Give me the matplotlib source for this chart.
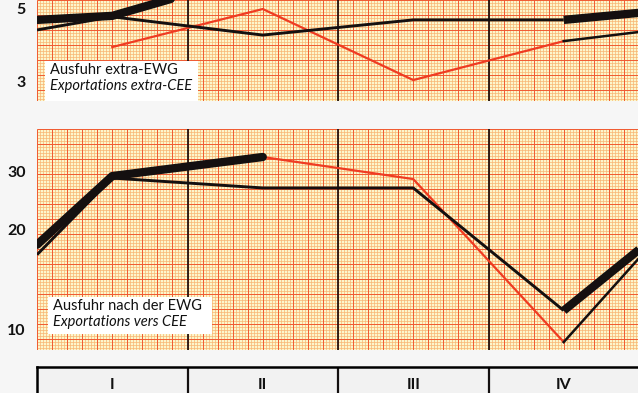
import numpy as np
import matplotlib.pyplot as plt
from matplotlib.ticker import NullLocator
from matplotlib.patches import Rectangle

# time axis in quarters: left edge (previous Q4 link), Q1..Q4 mid points, right edge (next Q1 link)
x_pos = [0.0, 0.5, 1.5, 2.5, 3.5, 4.0]
quarters = ['I', 'II', 'III', 'IV']
nan = np.nan

# top panel - Ausfuhr extra-EWG
extra_a = [4.30, 4.71, 4.15, 4.61, 4.61, 4.84]   # thin black, link to next year drawn thick
extra_b = [nan, 3.82, 4.97, 3.04, 3.98, 4.24]    # red, link to next year drawn thin black
extra_c = [4.61, 4.74, 6.40, nan, nan, nan]      # thick black
extra_ticks = [3, 5]

# bottom panel - Ausfuhr nach der EWG
intra_a = [16.8, 28.6, 26.7, 26.7, 11.4, 17.4]
intra_b = [nan, nan, 33.1, 28.4, 9.16, 16.4]
intra_c = [18.0, 29.0, 33.1, nan, nan, nan]
intra_ticks = [10, 20, 30]

W, H = 638, 393
fig = plt.figure(figsize=(W / 100, H / 100), dpi=100, facecolor='#f6f6f6')
plt.rcParams['font.family'] = ['Lato', 'DejaVu Sans']

RED = '#ef3b22'
INK = '#141010'


def frac(x0, y0, x1, y1):
    return [x0 / W, 1 - y1 / H, (x1 - x0) / W, (y1 - y0) / H]


def paper(rect):
    # graph paper background, drawn in pixel units
    bg = fig.add_axes(rect, zorder=0)
    w, h = rect[2] * W, rect[3] * H
    bg.set_xlim(0, w)
    bg.set_ylim(h, 0)
    bg.set_facecolor('#fcf6cc')
    bg.vlines(np.arange(0, w, 3.01), 0, h, color='#f8b472', lw=0.5)
    bg.hlines(np.arange(0, h, 3.0), 0, w, color='#f8b472', lw=0.5)
    bg.vlines(np.arange(0, w, 15.05), 0, h, color='#f05a32', lw=0.7)
    bg.hlines(np.arange(0, h, 15.0), 0, w, color='#f05a32', lw=0.7)
    bg.set_xticks([])
    bg.set_yticks([])
    for s in bg.spines.values():
        s.set_visible(False)


def panel(rect, ylim, ticks, a, b, c):
    paper(rect)
    ax = fig.add_axes(rect, zorder=1)
    ax.patch.set_alpha(0)
    ax.set_yscale('log')
    ax.set_xlim(0, 4)
    ax.set_ylim(*ylim)
    for q in [1, 2, 3]:
        ax.axvline(q, color='#221510', lw=1.3, zorder=1)
    # thin black year with its thick link
    ax.plot(x_pos[:5], a[:5], color=INK, lw=2.1, solid_capstyle='butt', zorder=3)
    ax.plot(x_pos[4:], a[4:], color=INK, lw=6, solid_capstyle='butt', zorder=4)
    # red year with its thin link
    ax.plot(x_pos[:5], b[:5], color=RED, lw=1.6, zorder=2)
    ax.plot(x_pos[4:], b[4:], color=INK, lw=1.8, zorder=3)
    # thick black year
    ax.plot(x_pos, c, color=INK, lw=6, solid_capstyle='round', zorder=4)
    ax.set_yticks(ticks)
    ax.set_yticklabels([str(t) for t in ticks], fontsize=11.5, fontweight='bold', color='#111111')
    ax.yaxis.set_minor_locator(NullLocator())
    ax.tick_params(axis='y', length=0, pad=8)
    ax.set_xticks([])
    for s in ax.spines.values():
        s.set_visible(False)
    return ax


panel(frac(37, 0, 639, 101), (2.63, 5.29), extra_ticks, extra_a, extra_b, extra_c)
panel(frac(37, 129, 639, 350), (8.67, 40.2), intra_ticks, intra_a, intra_b, intra_c)


def label(x0, y0, x1, y1, line1, line2):
    fig.patches.append(Rectangle((x0 / W, 1 - y1 / H), (x1 - x0) / W, (y1 - y0) / H,
                                 transform=fig.transFigure, facecolor='white',
                                 edgecolor='none', zorder=2))
    fig.text((x0 + 5) / W, 1 - (y0 + 9) / H, line1, fontsize=10.5, color='#111111',
             va='center', ha='left', zorder=3)
    fig.text((x0 + 5) / W, 1 - (y0 + 25) / H, line2, fontsize=10.5, style='italic',
             color='#111111', va='center', ha='left', zorder=3)


label(45, 61, 198, 101, 'Ausfuhr extra-EWG', 'Exportations extra-CEE')
label(48, 297, 212, 334, 'Ausfuhr nach der EWG', 'Exportations vers CEE')

# quarter table under the panels
tab = fig.add_axes(frac(37, 367, 639, 410), zorder=1)
tab.set_xlim(0, 4)
tab.set_ylim(0, 1)
tab.set_facecolor('#f2f2f2')
for q in [1, 2, 3]:
    tab.axvline(q, color=INK, lw=1.6)
for i, name in enumerate(quarters):
    tab.text(i + 0.5, (410 - 385) / 43, name, ha='center', va='center',
             fontsize=11.5, fontweight='bold', color='#111111')
tab.set_xticks([])
tab.set_yticks([])
tab.spines['top'].set_linewidth(1.8)
tab.spines['left'].set_linewidth(1.8)
tab.spines['right'].set_visible(False)
tab.spines['bottom'].set_visible(False)

fig.savefig('out.png', dpi=100, facecolor=fig.get_facecolor())
